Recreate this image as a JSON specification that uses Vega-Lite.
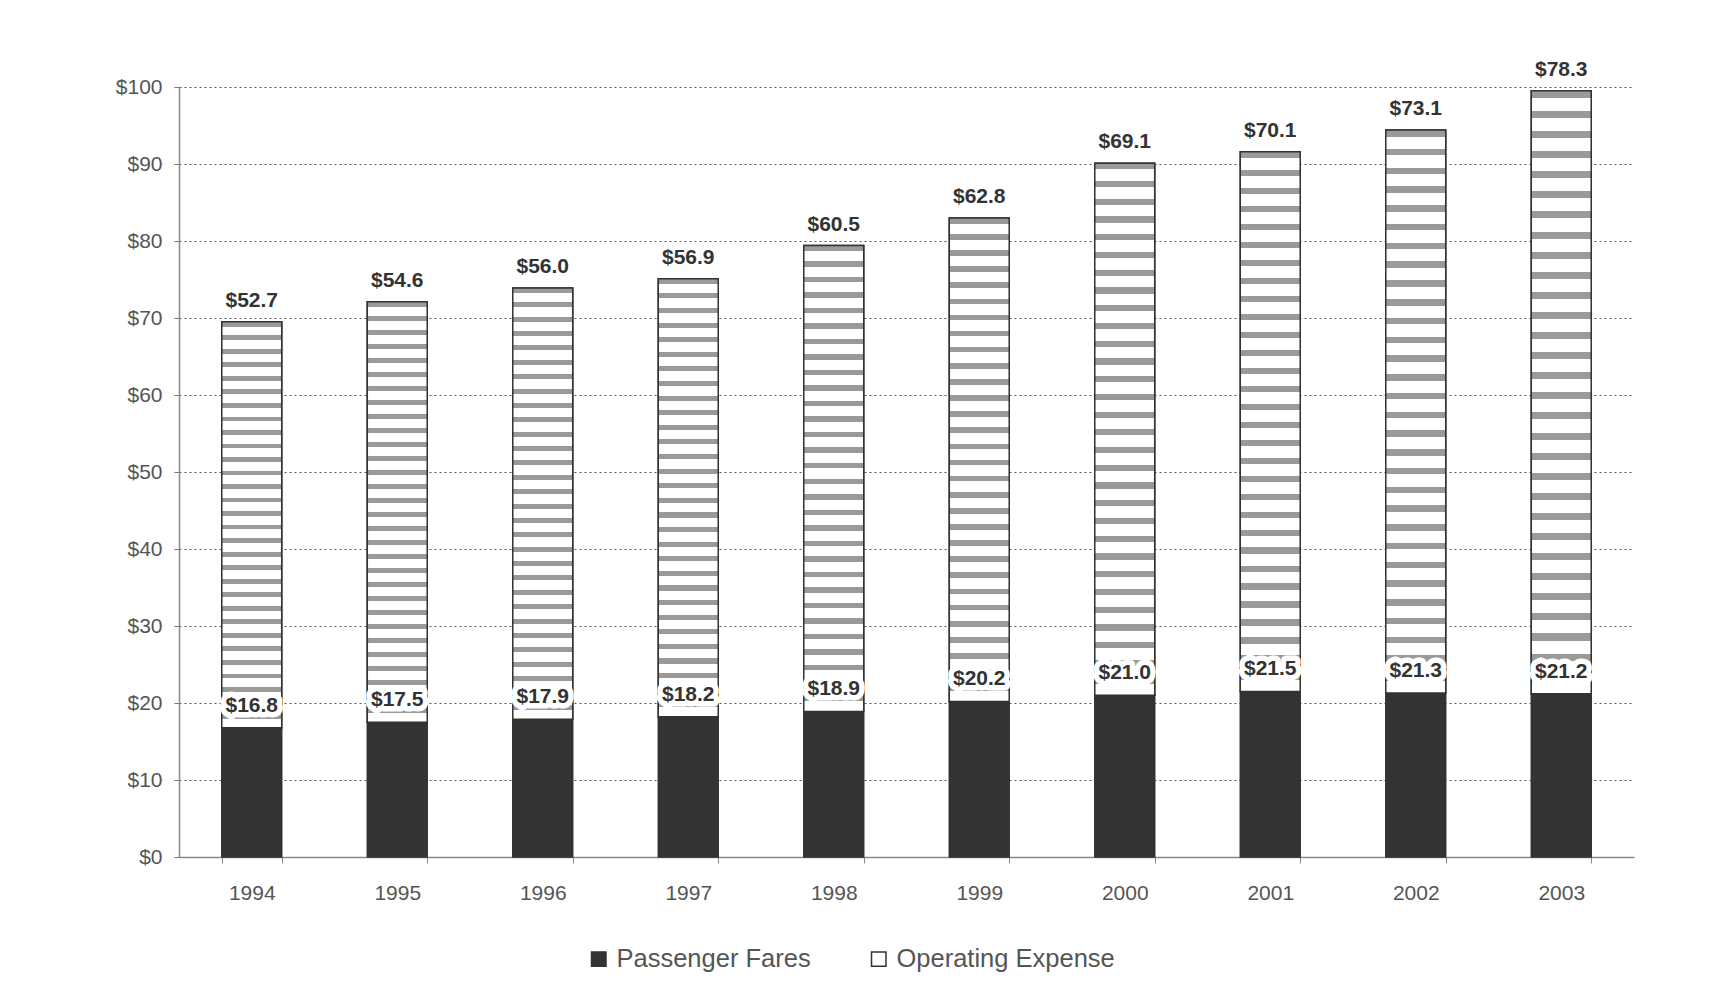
{
  "$schema": "https://vega.github.io/schema/vega-lite/v6.json",
  "width": 1455,
  "height": 770,
  "autosize": {"type": "none"},
  "padding": {"left": 179, "top": 87, "right": 97, "bottom": 146},
  "background": "white",
  "config": {
    "font": "Liberation Sans",
    "view": {"stroke": null}
  },
  "data": {
    "values": [
      {"year": "1994", "series": "Passenger Fares", "value": 16.8},
      {"year": "1995", "series": "Passenger Fares", "value": 17.5},
      {"year": "1996", "series": "Passenger Fares", "value": 17.9},
      {"year": "1997", "series": "Passenger Fares", "value": 18.2},
      {"year": "1998", "series": "Passenger Fares", "value": 18.9},
      {"year": "1999", "series": "Passenger Fares", "value": 20.2},
      {"year": "2000", "series": "Passenger Fares", "value": 21.0},
      {"year": "2001", "series": "Passenger Fares", "value": 21.5},
      {"year": "2002", "series": "Passenger Fares", "value": 21.3},
      {"year": "2003", "series": "Passenger Fares", "value": 21.2},
      {"year": "1994", "series": "Operating Expense", "value": 52.7},
      {"year": "1995", "series": "Operating Expense", "value": 54.6},
      {"year": "1996", "series": "Operating Expense", "value": 56.0},
      {"year": "1997", "series": "Operating Expense", "value": 56.9},
      {"year": "1998", "series": "Operating Expense", "value": 60.5},
      {"year": "1999", "series": "Operating Expense", "value": 62.8},
      {"year": "2000", "series": "Operating Expense", "value": 69.1},
      {"year": "2001", "series": "Operating Expense", "value": 70.1},
      {"year": "2002", "series": "Operating Expense", "value": 73.1},
      {"year": "2003", "series": "Operating Expense", "value": 78.3}
    ]
  },
  "transform": [
    {"stack": "value", "groupby": ["year"], "sort": [{"field": "series", "order": "descending"}], "as": ["v0", "v1"]}
  ],
  "encoding": {
    "x": {
      "field": "year",
      "type": "ordinal",
      "scale": {"paddingInner": 0.588, "paddingOuter": 0.294},
      "axis": {
        "title": null,
        "labelAngle": 0,
        "labelFontSize": 21,
        "labelColor": "#555555",
        "labelPadding": 19,
        "tickBand": "extent",
        "tickSize": 6,
        "tickColor": "#888888",
        "domainColor": "#888888",
        "domainWidth": 1.5,
        "grid": false
      }
    },
    "y": {
      "field": "v1",
      "type": "quantitative",
      "scale": {"domain": [0, 100], "nice": false},
      "axis": {
        "title": null,
        "values": [0, 10, 20, 30, 40, 50, 60, 70, 80, 90, 100],
        "format": "$,.0f",
        "labelFontSize": 21,
        "labelColor": "#555555",
        "labelPadding": 12,
        "tickSize": 5,
        "tickColor": "#777777",
        "domainColor": "#888888",
        "domainWidth": 1.5,
        "grid": true,
        "gridColor": "#555555",
        "gridDash": [2, 3],
        "gridWidth": 1
      }
    }
  },
  "layer": [
    {
      "mark": {"type": "bar", "stroke": "#333333", "strokeWidth": 1.5},
      "encoding": {
        "y2": {"field": "v0"},
        "fill": {
          "field": "series",
          "type": "nominal",
          "scale": {"domain": ["Passenger Fares", "Operating Expense"], "range": ["#333333", "#ffffff"]},
          "legend": {
            "title": null,
            "orient": "none",
            "legendX": 407,
            "legendY": 859,
            "direction": "horizontal",
            "symbolType": "square",
            "symbolSize": 210,
            "symbolStrokeColor": "#333333",
            "symbolStrokeWidth": 1.5,
            "labelFontSize": 25.5,
            "labelColor": "#555555",
            "labelOffset": 5,
            "labelLimit": 400,
            "columnPadding": 55
          }
        }
      }
    },
    {
      "transform": [{"filter": "datum.series === 'Operating Expense'"}],
      "mark": {
        "type": "bar",
        "stroke": "#333333",
        "strokeWidth": 1.5,
        "fill": {
          "gradient": "linear",
          "x1": 0, "y1": 0, "x2": 0, "y2": 1,
          "stops": [
            {"offset": 0, "color": "#9a9a9a"}, {"offset": 0.0117, "color": "#9a9a9a"}, {"offset": 0.0117, "color": "#ffffff"}, {"offset": 0.0333, "color": "#ffffff"},
            {"offset": 0.0333, "color": "#9a9a9a"}, {"offset": 0.045, "color": "#9a9a9a"}, {"offset": 0.045, "color": "#ffffff"}, {"offset": 0.0667, "color": "#ffffff"},
            {"offset": 0.0667, "color": "#9a9a9a"}, {"offset": 0.0783, "color": "#9a9a9a"}, {"offset": 0.0783, "color": "#ffffff"}, {"offset": 0.1, "color": "#ffffff"},
            {"offset": 0.1, "color": "#9a9a9a"}, {"offset": 0.1117, "color": "#9a9a9a"}, {"offset": 0.1117, "color": "#ffffff"}, {"offset": 0.1333, "color": "#ffffff"},
            {"offset": 0.1333, "color": "#9a9a9a"}, {"offset": 0.145, "color": "#9a9a9a"}, {"offset": 0.145, "color": "#ffffff"}, {"offset": 0.1667, "color": "#ffffff"},
            {"offset": 0.1667, "color": "#9a9a9a"}, {"offset": 0.1783, "color": "#9a9a9a"}, {"offset": 0.1783, "color": "#ffffff"}, {"offset": 0.2, "color": "#ffffff"},
            {"offset": 0.2, "color": "#9a9a9a"}, {"offset": 0.2117, "color": "#9a9a9a"}, {"offset": 0.2117, "color": "#ffffff"}, {"offset": 0.2333, "color": "#ffffff"},
            {"offset": 0.2333, "color": "#9a9a9a"}, {"offset": 0.245, "color": "#9a9a9a"}, {"offset": 0.245, "color": "#ffffff"}, {"offset": 0.2667, "color": "#ffffff"},
            {"offset": 0.2667, "color": "#9a9a9a"}, {"offset": 0.2783, "color": "#9a9a9a"}, {"offset": 0.2783, "color": "#ffffff"}, {"offset": 0.3, "color": "#ffffff"},
            {"offset": 0.3, "color": "#9a9a9a"}, {"offset": 0.3117, "color": "#9a9a9a"}, {"offset": 0.3117, "color": "#ffffff"}, {"offset": 0.3333, "color": "#ffffff"},
            {"offset": 0.3333, "color": "#9a9a9a"}, {"offset": 0.345, "color": "#9a9a9a"}, {"offset": 0.345, "color": "#ffffff"}, {"offset": 0.3667, "color": "#ffffff"},
            {"offset": 0.3667, "color": "#9a9a9a"}, {"offset": 0.3783, "color": "#9a9a9a"}, {"offset": 0.3783, "color": "#ffffff"}, {"offset": 0.4, "color": "#ffffff"},
            {"offset": 0.4, "color": "#9a9a9a"}, {"offset": 0.4117, "color": "#9a9a9a"}, {"offset": 0.4117, "color": "#ffffff"}, {"offset": 0.4333, "color": "#ffffff"},
            {"offset": 0.4333, "color": "#9a9a9a"}, {"offset": 0.445, "color": "#9a9a9a"}, {"offset": 0.445, "color": "#ffffff"}, {"offset": 0.4667, "color": "#ffffff"},
            {"offset": 0.4667, "color": "#9a9a9a"}, {"offset": 0.4783, "color": "#9a9a9a"}, {"offset": 0.4783, "color": "#ffffff"}, {"offset": 0.5, "color": "#ffffff"},
            {"offset": 0.5, "color": "#9a9a9a"}, {"offset": 0.5117, "color": "#9a9a9a"}, {"offset": 0.5117, "color": "#ffffff"}, {"offset": 0.5333, "color": "#ffffff"},
            {"offset": 0.5333, "color": "#9a9a9a"}, {"offset": 0.545, "color": "#9a9a9a"}, {"offset": 0.545, "color": "#ffffff"}, {"offset": 0.5667, "color": "#ffffff"},
            {"offset": 0.5667, "color": "#9a9a9a"}, {"offset": 0.5783, "color": "#9a9a9a"}, {"offset": 0.5783, "color": "#ffffff"}, {"offset": 0.6, "color": "#ffffff"},
            {"offset": 0.6, "color": "#9a9a9a"}, {"offset": 0.6117, "color": "#9a9a9a"}, {"offset": 0.6117, "color": "#ffffff"}, {"offset": 0.6333, "color": "#ffffff"},
            {"offset": 0.6333, "color": "#9a9a9a"}, {"offset": 0.645, "color": "#9a9a9a"}, {"offset": 0.645, "color": "#ffffff"}, {"offset": 0.6667, "color": "#ffffff"},
            {"offset": 0.6667, "color": "#9a9a9a"}, {"offset": 0.6783, "color": "#9a9a9a"}, {"offset": 0.6783, "color": "#ffffff"}, {"offset": 0.7, "color": "#ffffff"},
            {"offset": 0.7, "color": "#9a9a9a"}, {"offset": 0.7117, "color": "#9a9a9a"}, {"offset": 0.7117, "color": "#ffffff"}, {"offset": 0.7333, "color": "#ffffff"},
            {"offset": 0.7333, "color": "#9a9a9a"}, {"offset": 0.745, "color": "#9a9a9a"}, {"offset": 0.745, "color": "#ffffff"}, {"offset": 0.7667, "color": "#ffffff"},
            {"offset": 0.7667, "color": "#9a9a9a"}, {"offset": 0.7783, "color": "#9a9a9a"}, {"offset": 0.7783, "color": "#ffffff"}, {"offset": 0.8, "color": "#ffffff"},
            {"offset": 0.8, "color": "#9a9a9a"}, {"offset": 0.8117, "color": "#9a9a9a"}, {"offset": 0.8117, "color": "#ffffff"}, {"offset": 0.8333, "color": "#ffffff"},
            {"offset": 0.8333, "color": "#9a9a9a"}, {"offset": 0.845, "color": "#9a9a9a"}, {"offset": 0.845, "color": "#ffffff"}, {"offset": 0.8667, "color": "#ffffff"},
            {"offset": 0.8667, "color": "#9a9a9a"}, {"offset": 0.8783, "color": "#9a9a9a"}, {"offset": 0.8783, "color": "#ffffff"}, {"offset": 0.9, "color": "#ffffff"},
            {"offset": 0.9, "color": "#9a9a9a"}, {"offset": 0.9117, "color": "#9a9a9a"}, {"offset": 0.9117, "color": "#ffffff"}, {"offset": 0.9333, "color": "#ffffff"},
            {"offset": 0.9333, "color": "#9a9a9a"}, {"offset": 0.945, "color": "#9a9a9a"}, {"offset": 0.945, "color": "#ffffff"}, {"offset": 0.9667, "color": "#ffffff"},
            {"offset": 0.9667, "color": "#9a9a9a"}, {"offset": 0.9783, "color": "#9a9a9a"}, {"offset": 0.9783, "color": "#ffffff"}, {"offset": 1, "color": "#ffffff"}
          ]
        }
      },
      "encoding": {
        "y2": {"field": "v0"}
      }
    },
    {
      "transform": [{"filter": "datum.series === 'Passenger Fares'"}],
      "mark": {"type": "text", "baseline": "middle", "dy": -22, "fontSize": 21, "fontWeight": "bold", "stroke": "#ffffff", "strokeWidth": 11, "strokeJoin": "round", "fill": "#ffffff"},
      "encoding": {
        "text": {"field": "value", "type": "quantitative", "format": "$.1f"}
      }
    },
    {
      "transform": [{"filter": "datum.series === 'Passenger Fares'"}],
      "mark": {"type": "text", "baseline": "middle", "dy": -22, "fontSize": 21, "fontWeight": "bold", "fill": "#333333"},
      "encoding": {
        "text": {"field": "value", "type": "quantitative", "format": "$.1f"}
      }
    },
    {
      "transform": [{"filter": "datum.series === 'Operating Expense'"}],
      "mark": {"type": "text", "baseline": "middle", "dy": -21, "fontSize": 21, "fontWeight": "bold", "fill": "#333333"},
      "encoding": {
        "text": {"field": "value", "type": "quantitative", "format": "$.1f"}
      }
    }
  ]
}
